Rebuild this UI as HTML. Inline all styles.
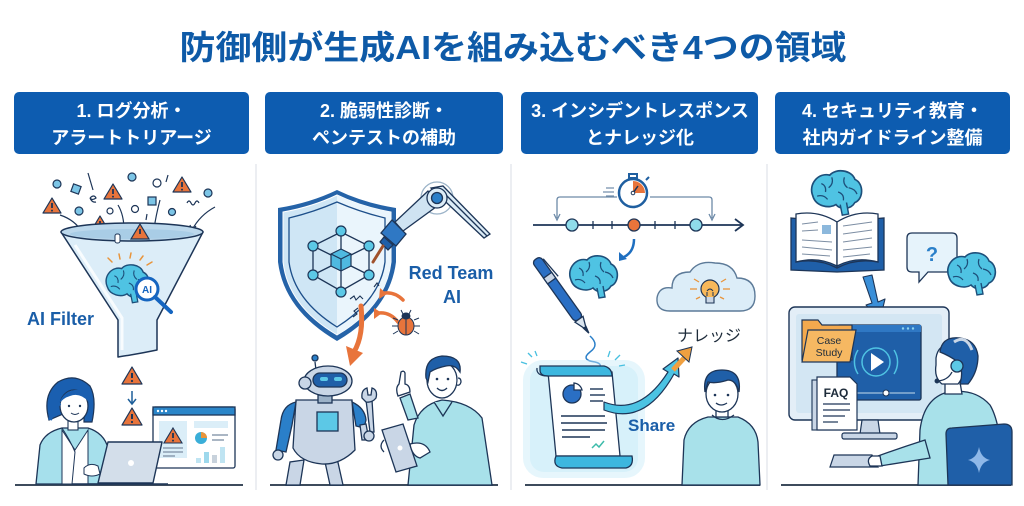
<!DOCTYPE html>
<html><head><meta charset="utf-8"><style>
html,body{margin:0;padding:0;background:#fff;}
svg{display:block;}
text{font-family:"Liberation Sans","Noto Sans CJK JP",sans-serif;}
</style></head><body>
<svg width="1024" height="506" viewBox="0 0 1024 506" xmlns="http://www.w3.org/2000/svg">
<rect width="1024" height="506" fill="#fff"/>
<!-- Title -->
<text x="513" y="59" font-size="33" font-weight="bold" fill="#0e5aa7" text-anchor="middle" textLength="667" lengthAdjust="spacingAndGlyphs">防御側が生成AIを組み込むべき4つの領域</text>

<!-- Header boxes -->
<g fill="#0d5cb0">
<rect x="14" y="92" width="235" height="62" rx="5"/>
<rect x="265" y="92" width="238" height="62" rx="5"/>
<rect x="521" y="92" width="237" height="62" rx="5"/>
<rect x="775" y="92" width="235" height="62" rx="5"/>
</g>
<g fill="#fff" font-size="18" font-weight="bold" text-anchor="middle">
<text x="131.5" y="117">1. ログ分析・</text>
<text x="131.5" y="144">アラートトリアージ</text>
<text x="384" y="117">2. 脆弱性診断・</text>
<text x="384" y="144">ペンテストの補助</text>
<text x="640" y="117">3. インシデントレスポンス</text>
<text x="640" y="144">とナレッジ化</text>
<text x="892.5" y="117">4. セキュリティ教育・</text>
<text x="892.5" y="144">社内ガイドライン整備</text>
</g>

<!-- separators -->
<g stroke="#dfe3e8" stroke-width="1.2">
<line x1="256" y1="164" x2="256" y2="490"/>
<line x1="511" y1="164" x2="511" y2="490"/>
<line x1="767" y1="164" x2="767" y2="490"/>
</g>
<!-- ground lines -->
<g stroke="#3d4b5c" stroke-width="2">
<line x1="15" y1="485" x2="243" y2="485"/>
<line x1="270" y1="485" x2="498" y2="485"/>
<line x1="525" y1="485" x2="760" y2="485"/>
<line x1="781" y1="485" x2="1011" y2="485"/>
</g>

<!-- ================= COLUMN 1 ================= -->
<g stroke="#1d3557" stroke-width="1.2" fill="#7cc5e6">
<circle cx="57" cy="184" r="4"/>
<rect x="72" y="185" width="8" height="8" transform="rotate(20 76 189)"/>
<circle cx="132" cy="177" r="4"/>
<circle cx="157" cy="183" r="4" fill="#fff"/>
<circle cx="208" cy="193" r="4"/>
<circle cx="79" cy="211" r="4"/>
<circle cx="110" cy="211" r="3" fill="#fff"/>
<circle cx="135" cy="209" r="3.5" fill="#fff"/>
<rect x="148" y="197" width="8" height="8"/>
<circle cx="172" cy="212" r="3.5"/>
<circle cx="172" cy="232" r="3" fill="#fff"/>
</g>
<g stroke="#1d3557" stroke-width="1.2" fill="none">
<path d="M88,173 L93,190"/>
<path d="M168,175 L166,182"/>
<path d="M90,198 q4,-4 6,0 q-4,3 -6,0 q2,5 6,4"/>
<path d="M187,203 q2,-4 4,0 q2,4 4,0 q2,-4 4,0"/>
<path d="M147,214 L146,220"/>
<path d="M60,215 Q75,220 82,232"/><path d="M79,228 l3,5 l2,-6"/>
<path d="M118,205 Q124,215 124,230"/><path d="M121,226 l3,5 l3,-5"/>
<path d="M160,200 Q156,215 154,229"/><path d="M151,225 l3,5 l3,-5"/>
<path d="M215,207 Q200,215 192,230"/><path d="M190,225 l2,6 l4,-5"/>
</g>
<g>
<g transform="translate(52,206)"><path d="M0,-8 L9,7 L-9,7 Z" fill="#e8743b" stroke="#1d3557" stroke-width="1.2" stroke-linejoin="round"/><path d="M0,-3 V2" stroke="#1d3557" stroke-width="1.8"/><circle cx="0" cy="4.6" r="1" fill="#1d3557"/></g>
<g transform="translate(113,192)"><path d="M0,-8 L9,7 L-9,7 Z" fill="#e8743b" stroke="#1d3557" stroke-width="1.2" stroke-linejoin="round"/><path d="M0,-3 V2" stroke="#1d3557" stroke-width="1.8"/><circle cx="0" cy="4.6" r="1" fill="#1d3557"/></g>
<g transform="translate(182,185)"><path d="M0,-8 L9,7 L-9,7 Z" fill="#e8743b" stroke="#1d3557" stroke-width="1.2" stroke-linejoin="round"/><path d="M0,-3 V2" stroke="#1d3557" stroke-width="1.8"/><circle cx="0" cy="4.6" r="1" fill="#1d3557"/></g>
<g transform="translate(100,224)"><path d="M0,-8 L9,7 L-9,7 Z" fill="#e8743b" stroke="#1d3557" stroke-width="1.2" stroke-linejoin="round"/><path d="M0,-3 V2" stroke="#1d3557" stroke-width="1.8"/><circle cx="0" cy="4.6" r="1" fill="#1d3557"/></g>
</g>
<!-- funnel -->
<path d="M61,232 L118,320 L118,357 Q138,354 157,350 L157,320 L203,232 Z" fill="#dcedf8" stroke="#1d3557" stroke-width="1.5" stroke-linejoin="round"/>
<path d="M75,245 L122,318 L122,350" fill="none" stroke="#fff" stroke-width="3" opacity="0.8"/>
<ellipse cx="132" cy="232" rx="71" ry="9" fill="#bcd8ec" stroke="#1d3557" stroke-width="1.5"/>
<ellipse cx="132" cy="234" rx="62" ry="5" fill="#a9cde6"/>
<g transform="translate(140,232)"><path d="M0,-8 L9,7 L-9,7 Z" fill="#e8743b" stroke="#1d3557" stroke-width="1.2"/><path d="M0,-3 V2" stroke="#1d3557" stroke-width="1.8"/></g>
<rect x="115" y="234" width="5" height="9" rx="2" fill="#fff" stroke="#1d3557" stroke-width="1"/>
<g stroke="#e8943b" stroke-width="1.5" stroke-linecap="round">
<line x1="112" y1="262" x2="108" y2="258"/><line x1="120" y1="259" x2="119" y2="254"/><line x1="130" y1="258" x2="131" y2="253"/><line x1="140" y1="260" x2="143" y2="256"/><line x1="147" y1="265" x2="152" y2="262"/>
</g>
<g transform="translate(127,283) scale(0.9)">
<path d="M-22,4 C-27,-8 -16,-19 -6,-16 C0,-23 15,-21 18,-12 C27,-8 26,7 18,10 C14,17 4,17 0,12 C-6,16 -19,14 -22,4 Z" fill="#4fc3e3" stroke="#1d4f7a" stroke-width="1.6"/>
<path d="M4,12 L6,22 L12,21 L10,10" fill="#4fc3e3" stroke="#1d4f7a" stroke-width="1.4"/>
<g fill="none" stroke="#1d4f7a" stroke-width="1.2"><path d="M-14,-8 q5,2 4,8"/><path d="M-4,-14 q2,6 -3,10"/><path d="M8,-14 q-2,6 3,10"/><path d="M-18,4 q6,-2 10,3"/><path d="M2,0 q6,2 5,8"/><path d="M12,-4 q6,1 8,6"/></g>
</g>
<circle cx="147" cy="289" r="11" fill="#fff" stroke="#1565c0" stroke-width="3"/>
<line x1="155" y1="297" x2="171" y2="312" stroke="#1565c0" stroke-width="4" stroke-linecap="round"/>
<text x="147" y="293" font-size="10" font-weight="bold" fill="#1565c0" text-anchor="middle">AI</text>
<text x="27" y="325" font-size="18" font-weight="bold" fill="#1a5ea8">AI Filter</text>
<g transform="translate(132,376)"><path d="M0,-9 L10,8 L-10,8 Z" fill="#e8743b" stroke="#1d3557" stroke-width="1.2" stroke-linejoin="round"/><path d="M0,-3 V2" stroke="#1d3557" stroke-width="2"/><circle cx="0" cy="5" r="1.1" fill="#1d3557"/></g>
<path d="M132,391 V403 M128,399 L132,404 L136,399" fill="none" stroke="#1d5f9a" stroke-width="1.5"/>
<g transform="translate(132,417)"><path d="M0,-9 L10,8 L-10,8 Z" fill="#e8743b" stroke="#1d3557" stroke-width="1.2" stroke-linejoin="round"/><path d="M0,-3 V2" stroke="#1d3557" stroke-width="2"/><circle cx="0" cy="5" r="1.1" fill="#1d3557"/></g>
<!-- dashboard -->
<rect x="153" y="407" width="82" height="61" rx="2" fill="#fff" stroke="#1d3557" stroke-width="1.3"/>
<rect x="153" y="407" width="82" height="8" fill="#2b86c9" stroke="#1d3557" stroke-width="1.3"/>
<g fill="#fff"><circle cx="158" cy="411" r="1.2"/><circle cx="162" cy="411" r="1.2"/><circle cx="166" cy="411" r="1.2"/></g>
<rect x="159" y="421" width="28" height="37" fill="#dbeef8"/>
<rect x="194" y="421" width="34" height="7" fill="#dbeef8"/>
<g transform="translate(173,436)"><path d="M0,-8 L9,7 L-9,7 Z" fill="#e8743b" stroke="#1d3557" stroke-width="1.1"/><path d="M0,-3 V2" stroke="#1d3557" stroke-width="1.8"/><circle cx="0" cy="4.6" r="1" fill="#1d3557"/></g>
<g stroke="#7d8ea3" stroke-width="1.3"><line x1="163" y1="448" x2="183" y2="448"/><line x1="163" y1="452" x2="183" y2="452"/><line x1="163" y1="456" x2="175" y2="456"/><line x1="212" y1="435" x2="228" y2="435"/><line x1="212" y1="440" x2="224" y2="440"/></g>
<circle cx="201" cy="438" r="6" fill="#3aaed8"/><path d="M201,438 V432 A6,6 0 0 1 207,438 Z" fill="#e8943b"/>
<g fill="#bfe4f2"><rect x="196" y="458" width="5" height="5"/><rect x="204" y="452" width="5" height="11" fill="#9dd8ec"/><rect x="212" y="455" width="5" height="8" fill="#c8d2dc"/><rect x="220" y="447" width="5" height="16"/></g>
<!-- woman -->
<path d="M36,484 L40,445 Q45,432 62,428 L88,428 Q104,433 108,448 L112,484 Z" fill="#a6e0ec" stroke="#1d3557" stroke-width="1.3"/>
<path d="M62,430 L75,450 L88,430 L88,484 L62,484 Z" fill="#fff" stroke="#1d3557" stroke-width="1"/>
<path d="M62,428 Q70,440 75,452 L72,484" fill="none" stroke="#1d3557" stroke-width="1"/>
<rect x="68" y="420" width="10" height="10" fill="#fff" stroke="#1d3557" stroke-width="1.1"/>
<path d="M49,420 Q42,395 58,382 Q75,372 90,386 Q97,398 92,422 L84,422 L84,405 Z" fill="#1a5fb0" stroke="#1d3557" stroke-width="1.2"/>
<ellipse cx="74" cy="406" rx="14" ry="16" fill="#fff" stroke="#1d3557" stroke-width="1.3"/>
<path d="M59,404 Q64,388 82,390 Q88,393 89,402 Q80,392 70,396 Q63,398 59,404 Z" fill="#1a5fb0"/>
<path d="M50,420 Q53,408 60,403" fill="none" stroke="#1a5fb0" stroke-width="4"/>
<g fill="#1d3557"><circle cx="69" cy="406" r="1.2"/><circle cx="80" cy="406" r="1.2"/></g>
<path d="M71,413 Q75,416 79,413" fill="none" stroke="#1d3557" stroke-width="1"/>
<path d="M108,442 L162,442 L153,483 L98,483 Z" fill="#d3deea" stroke="#1d3557" stroke-width="1.4" stroke-linejoin="round"/>
<circle cx="131" cy="463" r="3" fill="#fff"/>
<path d="M84,468 q6,-6 14,-2 l2,8 q-8,4 -16,0 Z" fill="#fff" stroke="#1d3557" stroke-width="1"/>
<path d="M72,484 L168,484" stroke="#1d3557" stroke-width="1.5"/>

<!-- ================= COLUMN 2 ================= -->
<path d="M278,208 Q310,203 337,190 Q364,203 396,208 L396,262 Q390,310 337,341 Q284,310 278,262 Z" fill="#2563a8"/>
<path d="M283,212 Q312,207 337,195 Q362,207 391,212 L391,262 Q386,306 337,335 Q288,306 283,262 Z" fill="#cfe6f5" stroke="#fff" stroke-width="1"/>
<path d="M337,195 Q362,207 391,212 L391,262 Q386,306 337,335 Z" fill="#eaf5fc"/>
<path d="M289,218 Q314,212 337,202 Q360,212 385,218 L385,262 Q380,300 337,327 Q294,300 289,262 Z" fill="none" stroke="#1d4f8a" stroke-width="1.3"/>
<g stroke="#1d3557" stroke-width="1.3" fill="none">
<path d="M341,232 L313,246 L313,275 L341,291 L369,275 L369,246 Z"/>
<path d="M341,232 L341,250 M313,246 L331,255 M369,246 L351,255 M313,275 L331,266 M369,275 L351,266 M341,291 L341,270"/>
</g>
<g fill="#5cc8e6" stroke="#1d3557" stroke-width="1.2">
<circle cx="341" cy="231" r="5"/><circle cx="313" cy="246" r="5"/><circle cx="369" cy="246" r="5"/><circle cx="313" cy="275" r="5"/><circle cx="369" cy="275" r="5"/><circle cx="341" cy="292" r="5"/>
<path d="M331,254 L341,249 L351,254 L351,266 L341,271 L331,266 Z" fill="#4fb9e0"/>
<path d="M331,254 L341,259 L351,254 M341,259 V271" fill="none"/>
</g>
<g fill="none" stroke="#1d3557" stroke-width="1.1">
<path d="M350,299 l4,-3 l2,4 l4,-4 l3,3"/><path d="M358,308 l-4,3 l3,3 l-4,3"/><path d="M374,287 l3,-4 l2,3"/>
</g>
<g stroke="#1d3557" stroke-width="1.3">
<circle cx="437" cy="198" r="16" fill="none" stroke="#9bb3c8"/>
<path d="M431,188 L484,238 L490,234 L443,186 Z" fill="#dcecf7"/>
<path d="M443,192 L487,236" fill="none"/>
<path d="M428,191 L395,222 L403,231 L440,204 Z" fill="#cfe3f2"/>
<circle cx="437" cy="198" r="10" fill="#dcecf7"/>
<circle cx="437" cy="198" r="5.5" fill="#2a7fc9"/>
<path d="M392,220 L406,234 L396,246 L381,233 Z" fill="#2f78c4"/>
<path d="M384,237 L393,245 L388,250 L380,242 Z" fill="#1f5fa8"/>
<line x1="383" y1="246" x2="373" y2="262" stroke="#a0522d" stroke-width="3" stroke-linecap="round"/>
</g>
<text x="451" y="279" font-size="18" font-weight="bold" fill="#1a5ea8" text-anchor="middle">Red Team</text>
<text x="452" y="303" font-size="18" font-weight="bold" fill="#1a5ea8" text-anchor="middle">AI</text>
<g fill="none" stroke="#e8743b" stroke-width="3.5" stroke-linecap="round">
<path d="M403,300 Q395,292 385,293"/>
<path d="M398,322 Q390,312 379,313"/>
</g>
<g fill="#e8743b"><path d="M380,288 L379,299 L387,294 Z"/><path d="M374,308 L374,319 L382,313 Z"/></g>
<g stroke="#1d3557" stroke-width="1">
<path d="M398,320 l-5,-2 M398,326 l-6,0 M398,331 l-5,3 M414,320 l5,-2 M414,326 l6,0 M414,331 l5,3 M403,314 l-2,-4 M409,314 l2,-4" fill="none"/>
<ellipse cx="406" cy="326" rx="8" ry="9" fill="#e8743b"/>
<ellipse cx="406" cy="316" rx="4" ry="3" fill="#1d3557"/>
<line x1="406" y1="318" x2="406" y2="335"/>
</g>
<path d="M361,306 Q364,335 354,352" fill="none" stroke="#e8743b" stroke-width="5" stroke-linecap="round"/>
<path d="M346,346 L350,366 L363,353 Z" fill="#e8743b"/>
<!-- robot -->
<g stroke="#1d3557" stroke-width="1.3">
<line x1="315" y1="362" x2="316" y2="370"/><circle cx="315" cy="358" r="3" fill="#2a7fc9"/>
<path d="M290,462 L286,485 L300,485 L304,460 Z" fill="#c9d6e6"/>
<path d="M325,462 L330,485 L343,485 L337,458 Z" fill="#c9d6e6"/>
<path d="M296,400 L352,400 L355,450 Q340,465 322,464 Q300,462 293,448 Z" fill="#c9d6e6"/>
<rect x="317" y="412" width="21" height="19" fill="#5cc8e6"/>
<path d="M296,402 Q283,405 281,420 L276,450 L286,452 L292,425 Z" fill="#2a7fc9"/>
<circle cx="278" cy="455" r="5" fill="#c9d6e6"/>
<path d="M352,402 Q365,408 366,420 L364,428 L356,426 Z" fill="#2a7fc9"/>
<path d="M360,425 L362,440 L369,440 L366,424 Z" fill="#c9d6e6"/>
<rect x="318" y="395" width="14" height="8" fill="#9cb2c8"/>
<ellipse cx="328" cy="381" rx="24" ry="15" fill="#c9d6e6"/>
<circle cx="305" cy="383" r="6" fill="#c9d6e6"/>
<rect x="313" y="373" width="34" height="14" rx="7" fill="#1f5fa8"/>
<rect x="320" y="377" width="8" height="4" rx="2" fill="#5cc8e6" stroke="none"/>
<rect x="334" y="377" width="8" height="4" rx="2" fill="#5cc8e6" stroke="none"/>
<path d="M366,400 L370,432 L374,432 L372,400 Z" fill="#c9d6e6"/>
<path d="M362,398 Q361,390 367,388 L368,395 L371,395 L372,388 Q378,390 376,398 Q372,403 366,402 Z" fill="#c9d6e6"/>
<circle cx="369" cy="436" r="5" fill="#c9d6e6"/>
</g>
<!-- man col2 -->
<g stroke="#1d3557" stroke-width="1.3">
<path d="M408,485 L414,425 Q420,405 442,400 Q470,402 482,418 L492,485 Z" fill="#a8e1ea"/>
<path d="M434,402 L443,416 L452,402" fill="#a8e1ea"/>
<ellipse cx="442" cy="380" rx="15" ry="18" fill="#fff"/>
<path d="M426,378 Q424,358 442,356 Q462,356 460,372 Q455,364 446,366 Q436,368 430,372 L428,382 Z" fill="#1f5fa8"/>
<path d="M458,378 q3,0 3,4 q-1,4 -4,3" fill="#fff"/>
<g fill="#1d3557" stroke="none"><circle cx="437" cy="379" r="1.3"/><circle cx="448" cy="379" r="1.3"/></g>
<path d="M437,388 Q442,393 447,388" fill="none"/>
<path d="M408,420 L400,398 L410,394 L418,418 Z" fill="#a8e1ea"/>
<path d="M398,396 Q395,388 399,384 L401,372 Q404,370 405,373 L405,384 Q410,385 410,392 Z" fill="#fff"/>
<path d="M382,430 L403,424 L417,466 L396,472 Z" fill="#c9d6e6"/>
<circle cx="400" cy="448" r="2.5" fill="#fff" stroke="none"/>
<path d="M410,444 Q425,440 430,452 L420,458 Q412,456 410,444 Z" fill="#fff"/>
<path d="M384,440 Q378,446 384,452" fill="#fff"/>
</g>

<!-- ================= COLUMN 3 ================= -->
<g stroke="#1f5fa0" stroke-width="2">
<rect x="629" y="174" width="8" height="4" fill="#fff"/>
<line x1="646" y1="180" x2="649" y2="177"/>
<circle cx="633" cy="193" r="14" fill="#fff" stroke-width="2.5"/>
</g>
<path d="M633,193 V181 A12,12 0 0 1 645,193 Z" fill="#e8743b"/>
<path d="M633,193 L638,186" stroke="#1d3557" stroke-width="1.5"/><circle cx="633" cy="193" r="1.8" fill="#fff" stroke="#1d3557"/>
<g stroke="#6d8aa8" stroke-width="1.2"><line x1="606" y1="188" x2="614" y2="188"/><line x1="603" y1="192" x2="614" y2="192"/><line x1="606" y1="196" x2="614" y2="196"/></g>
<g fill="none" stroke="#6d8aa8" stroke-width="1.3">
<path d="M617,197 L560,197 Q557,197 557,200 L557,218"/><path d="M554,214 L557,220 L560,214"/>
<path d="M650,197 L709,197 Q712,197 712,200 L712,218"/><path d="M709,214 L712,220 L715,214"/>
</g>
<line x1="533" y1="225" x2="743" y2="225" stroke="#1d3557" stroke-width="1.8"/>
<path d="M735,219 L743,225 L735,231" fill="none" stroke="#1d3557" stroke-width="1.8"/>
<g stroke="#1d3557" stroke-width="1.3"><line x1="593" y1="221" x2="593" y2="229"/><line x1="612" y1="221" x2="612" y2="229"/><line x1="655" y1="221" x2="655" y2="229"/><line x1="675" y1="221" x2="675" y2="229"/>
<circle cx="572" cy="225" r="6" fill="#8fdcea"/><circle cx="634" cy="225" r="6" fill="#e8743b"/><circle cx="696" cy="225" r="6" fill="#8fdcea"/></g>
<path d="M634,239 Q634,252 624,257" fill="none" stroke="#1f6fc0" stroke-width="2.5"/>
<path d="M619,252 L619,261 L627,259 Z" fill="#1f6fc0"/>
<g transform="translate(593,276)">
<path d="M-22,4 C-27,-8 -16,-19 -6,-16 C0,-23 15,-21 18,-12 C27,-8 26,7 18,10 C14,17 4,17 0,12 C-6,16 -19,14 -22,4 Z" fill="#4fc3e3" stroke="#1d4f7a" stroke-width="1.6"/>
<path d="M4,12 L6,22 L12,21 L10,10" fill="#4fc3e3" stroke="#1d4f7a" stroke-width="1.4"/>
<g fill="none" stroke="#1d4f7a" stroke-width="1.2"><path d="M-14,-8 q5,2 4,8"/><path d="M-4,-14 q2,6 -3,10"/><path d="M8,-14 q-2,6 3,10"/><path d="M-18,4 q6,-2 10,3"/><path d="M2,0 q6,2 5,8"/><path d="M12,-4 q6,1 8,6"/></g>
</g>
<!-- pen -->
<g transform="translate(536,259) rotate(54.5)" stroke="#1d3557" stroke-width="1.3">
<rect x="0" y="-5" width="74" height="10" rx="4" fill="#2a6fc4"/>
<rect x="20" y="-5" width="7" height="10" fill="#c9d6e6"/>
<line x1="4" y1="-6" x2="27" y2="-8"/>
<path d="M74,-5 L87,0 L74,5 Z" fill="#dbe6f0"/>
<path d="M84,-1.5 L91,0 L84,1.5 Z" fill="#1d3557"/>
</g>
<path d="M590,336 Q600,345 590,352 Q580,360 595,362 Q604,364 598,370" fill="none" stroke="#2a7fc9" stroke-width="1.5"/>
<rect x="523" y="360" width="122" height="118" rx="20" fill="#c8ebf8" opacity="0.45"/>
<rect x="530" y="366" width="108" height="106" rx="14" fill="#c8ebf8" opacity="0.5"/>
<g stroke="#48c0e0" stroke-width="1.3"><line x1="528" y1="353" x2="532" y2="357"/><line x1="535" y1="351" x2="537" y2="356"/><line x1="521" y1="362" x2="527" y2="364"/><line x1="610" y1="351" x2="608" y2="357"/><line x1="620" y1="355" x2="615" y2="360"/><line x1="625" y1="365" x2="619" y2="366"/></g>
<g stroke="#1d3557" stroke-width="1.3">
<path d="M548,372 L612,372 L620,456 L556,456 Z" fill="#fff"/>
<path d="M540,366 L604,366 Q612,368 612,376 L548,376 Q540,376 540,370 Z" fill="#3db7df"/>
<path d="M548,376 Q536,376 537,368" fill="none"/>
<path d="M556,456 L632,456 Q634,466 626,468 L562,468 Q552,466 556,456 Z" fill="#3db7df"/>
<circle cx="572" cy="394" r="9" fill="#2a6fc4"/>
<path d="M574,390 L574,383 A9,9 0 0 1 582,390 Z" fill="#fff"/>
</g>
<g stroke="#1d3557" stroke-width="1.4"><line x1="590" y1="389" x2="603" y2="389"/><line x1="590" y1="395" x2="605" y2="395"/><line x1="590" y1="401" x2="603" y2="401"/><line x1="561" y1="416" x2="605" y2="416"/><line x1="561" y1="423" x2="607" y2="423"/><line x1="562" y1="430" x2="605" y2="430"/><line x1="562" y1="437" x2="590" y2="437"/></g>
<path d="M592,448 l4,-4 l3,3 l5,-6" fill="none" stroke="#3dbbaa" stroke-width="1.5"/>
<path d="M604,402 Q640,416 668,372 L663,369 L678,358 L679,377 L674,374 Q645,426 604,410 Z" fill="#4cc3e3" stroke="#1d3557" stroke-width="1.2" stroke-linejoin="round"/>
<path d="M673,370 L686,356" stroke="#f0a040" stroke-width="5"/>
<path d="M677,351 L692,347 L689,362 Z" fill="#f0a040" stroke="#1d3557" stroke-width="1"/>
<text x="628" y="431" font-size="17" font-weight="bold" fill="#1a5ea8">Share</text>
<path d="M670,311 Q656,311 657,298 Q659,286 672,288 Q672,272 690,272 Q698,260 715,263 Q733,263 737,278 Q755,278 755,296 Q755,311 740,311 Z" fill="#dcedf8" stroke="#5c7a98" stroke-width="1.4"/>
<g stroke="#e8943b" stroke-width="1.3"><line x1="690" y1="289" x2="697" y2="289"/><line x1="723" y1="289" x2="730" y2="289"/><line x1="694" y1="279" x2="699" y2="282"/><line x1="726" y1="279" x2="721" y2="282"/><line x1="696" y1="299" x2="700" y2="297"/><line x1="724" y1="299" x2="720" y2="297"/></g>
<circle cx="710" cy="289" r="9" fill="#f7b85a" stroke="#1d3557" stroke-width="1.2"/>
<path d="M706,297 L706,303 L714,303 L714,297" fill="#c9d6e6" stroke="#1d3557" stroke-width="1.1"/>
<path d="M707,292 L707,296 M713,292 L713,296 M707,291 Q710,287 713,291" fill="none" stroke="#1d3557" stroke-width="1"/>
<text x="709" y="341" font-size="16" fill="#1d2b3a" text-anchor="middle">ナレッジ</text>
<g stroke="#1d3557" stroke-width="1.3">
<path d="M682,485 L684,440 Q688,422 708,417 L738,417 Q756,424 758,442 L760,485 Z" fill="#a8e1ea"/>
<path d="M712,415 Q722,424 734,415" fill="none"/>
<rect x="716" y="405" width="12" height="12" fill="#fff"/>
<ellipse cx="722" cy="394" rx="16" ry="18" fill="#fff"/>
<path d="M705,392 Q702,370 722,370 Q742,370 739,392 Q736,380 728,380 Q716,384 708,382 Z" fill="#1f5fa8"/>
<g fill="#1d3557" stroke="none"><circle cx="715" cy="395" r="1.3"/><circle cx="728" cy="395" r="1.3"/></g>
<path d="M716,403 Q721,407 727,403" fill="none"/>
</g>

<!-- ================= COLUMN 4 ================= -->
<g transform="translate(836,192) scale(1.05)">
<path d="M-22,4 C-27,-8 -16,-19 -6,-16 C0,-23 15,-21 18,-12 C27,-8 26,7 18,10 C14,17 4,17 0,12 C-6,16 -19,14 -22,4 Z" fill="#4fc3e3" stroke="#1d4f7a" stroke-width="1.6"/>
<path d="M4,12 L6,22 L12,21 L10,10" fill="#4fc3e3" stroke="#1d4f7a" stroke-width="1.4"/>
<g fill="none" stroke="#1d4f7a" stroke-width="1.2"><path d="M-14,-8 q5,2 4,8"/><path d="M-4,-14 q2,6 -3,10"/><path d="M8,-14 q-2,6 3,10"/><path d="M-18,4 q6,-2 10,3"/><path d="M2,0 q6,2 5,8"/><path d="M12,-4 q6,1 8,6"/></g>
</g>
<g stroke="#1d3557" stroke-width="1.3">
<path d="M791,218 L837,222 L884,218 L884,270 L837,272 L791,270 Z" fill="#1f5fa8"/>
<path d="M796,214 Q818,210 837,222 L837,266 Q818,256 796,262 Z" fill="#fff"/>
<path d="M878,214 Q856,210 837,222 L837,266 Q856,256 878,262 Z" fill="#fff"/>
<path d="M796,262 Q818,258 837,268 Q856,258 878,262" fill="none"/>
</g>
<rect x="822" y="225" width="9" height="9" fill="#8cb8dc"/>
<g stroke="#7d8ea3" stroke-width="1.1"><line x1="802" y1="224" x2="818" y2="222"/><line x1="802" y1="231" x2="818" y2="230"/><line x1="802" y1="240" x2="832" y2="242"/><line x1="802" y1="247" x2="832" y2="250"/><line x1="802" y1="254" x2="830" y2="256"/><line x1="843" y1="226" x2="872" y2="222"/><line x1="843" y1="234" x2="872" y2="230"/><line x1="843" y1="242" x2="872" y2="238"/><line x1="843" y1="250" x2="872" y2="247"/><line x1="843" y1="257" x2="870" y2="254"/></g>
<path d="M912,233 L952,233 Q957,233 957,238 L957,267 Q957,272 952,272 L928,272 L919,282 L919,272 L912,272 Q907,272 907,267 L907,238 Q907,233 912,233 Z" fill="#e6f3fb" stroke="#1d3557" stroke-width="1.3"/>
<text x="932" y="261" font-size="20" font-weight="bold" fill="#2a7fc9" text-anchor="middle">?</text>
<g transform="translate(971,273)">
<path d="M-22,4 C-27,-8 -16,-19 -6,-16 C0,-23 15,-21 18,-12 C27,-8 26,7 18,10 C14,17 4,17 0,12 C-6,16 -19,14 -22,4 Z" fill="#4fc3e3" stroke="#1d4f7a" stroke-width="1.6"/>
<path d="M4,12 L6,22 L12,21 L10,10" fill="#4fc3e3" stroke="#1d4f7a" stroke-width="1.4"/>
<g fill="none" stroke="#1d4f7a" stroke-width="1.2"><path d="M-14,-8 q5,2 4,8"/><path d="M-4,-14 q2,6 -3,10"/><path d="M8,-14 q-2,6 3,10"/><path d="M-18,4 q6,-2 10,3"/><path d="M2,0 q6,2 5,8"/><path d="M12,-4 q6,1 8,6"/></g>
</g>
<path d="M863,277 L872,275 L878,302 L885,299 L880,320 L866,305 L872,303 Z" fill="#3a8fd8" stroke="#1d3557" stroke-width="1.1" stroke-linejoin="round"/>
<rect x="789" y="307" width="160" height="113" rx="6" fill="#e3eef7" stroke="#1d3557" stroke-width="1.4"/>
<rect x="796" y="314" width="146" height="99" rx="3" fill="#d3e6f3"/>
<path d="M862,420 L860,434 L880,434 L878,420 Z" fill="#c9d6e6" stroke="#1d3557" stroke-width="1.2"/>
<rect x="842" y="433" width="55" height="6" rx="2" fill="#c9d6e6" stroke="#1d3557" stroke-width="1.2"/>
<rect x="837" y="325" width="84" height="75" rx="2" fill="#1f5fa8" stroke="#1d3557" stroke-width="1.3"/>
<rect x="837" y="325" width="84" height="7" fill="#2f78c4"/>
<g fill="#8fd3ee"><circle cx="903" cy="328.5" r="1.2"/><circle cx="908" cy="328.5" r="1.2"/><circle cx="913" cy="328.5" r="1.2"/></g>
<g fill="none" stroke="#4fc3e3" stroke-width="1.5"><circle cx="876" cy="362" r="14"/><path d="M894,350 A22,22 0 0 1 894,374"/><path d="M858,350 A22,22 0 0 0 858,374"/></g>
<path d="M871,353 L884,362 L871,371 Z" fill="#fff"/>
<line x1="855" y1="393" x2="915" y2="393" stroke="#8fb3d6" stroke-width="1.5"/>
<circle cx="886" cy="393" r="3" fill="#fff" stroke="#1d3557"/>
<path d="M802,320 L818,320 L822,325 L852,325 L852,360 L802,360 Z" fill="#f3a94e" stroke="#1d3557" stroke-width="1.2"/>
<path d="M808,330 L856,330 L850,362 L802,362 Z" fill="#f6b862" stroke="#1d3557" stroke-width="1.2"/>
<text x="829" y="344" font-size="10.5" fill="#1d2b3a" text-anchor="middle">Case</text>
<text x="829" y="356" font-size="10.5" fill="#1d2b3a" text-anchor="middle">Study</text>
<rect x="812" y="380" width="38" height="50" fill="#c9d6e6" stroke="#1d3557" stroke-width="1.1"/>
<path d="M817,377 L850,377 L857,384 L857,430 L817,430 Z" fill="#fff" stroke="#1d3557" stroke-width="1.2"/>
<text x="836" y="397" font-size="12" font-weight="bold" fill="#1d2b3a" text-anchor="middle">FAQ</text>
<g stroke="#1d3557" stroke-width="1.2"><line x1="823" y1="404" x2="850" y2="404"/><line x1="823" y1="410" x2="850" y2="410"/><line x1="823" y1="416" x2="845" y2="416"/><line x1="823" y1="422" x2="838" y2="422"/></g>
<path d="M834,455 L872,455 L878,467 L830,467 Z" fill="#c9d6e6" stroke="#1d3557" stroke-width="1.2"/>
<g stroke="#1d3557" stroke-width="1.3">
<path d="M918,485 L920,430 Q924,398 948,392 Q975,388 990,405 Q1002,425 1004,485 Z" fill="#a8e1ea"/>
<path d="M925,440 Q900,448 878,456 L880,466 Q905,462 930,458 Z" fill="#a8e1ea"/>
<path d="M872,456 Q866,459 870,466 L882,466 L880,456 Z" fill="#fff"/>
<path d="M945,394 L945,382 L960,382 L962,394 Z" fill="#fff"/>
<path d="M936,365 Q934,378 942,384 L958,384 Q966,374 966,362 Q966,346 952,344 Q938,344 936,358 Z" fill="#fff"/>
<path d="M940,352 Q942,336 960,338 Q976,340 978,356 Q978,372 968,384 L960,384 Q964,370 958,362 Q950,356 940,352 Z" fill="#1f5fa8"/>
<path d="M954,342 Q966,334 972,350" fill="none" stroke="#c9d6e6" stroke-width="3"/>
<circle cx="957" cy="366" r="6" fill="#5cc8e6"/>
<path d="M952,372 Q948,380 938,381" fill="none"/>
<circle cx="937" cy="381" r="1.8" fill="#1d3557"/>
</g>
<path d="M952,428 L1004,424 Q1012,424 1012,432 L1012,485 L948,485 L946,434 Q946,428 952,428 Z" fill="#1f5fa8" stroke="#1d3557" stroke-width="1.3"/>
<path d="M979,447 Q981,458 990,460 Q981,462 979,473 Q977,462 968,460 Q977,458 979,447 Z" fill="#8fb8e8"/>
</svg>
</body></html>
